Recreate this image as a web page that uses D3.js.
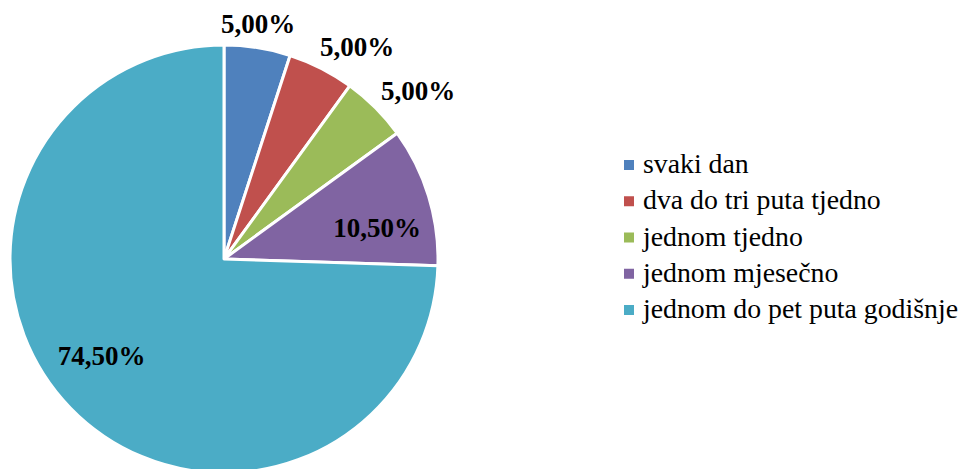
<!DOCTYPE html>
<html>
<head>
<meta charset="utf-8">
<script src="https://cdn.jsdelivr.net/npm/d3@7"></script>
<style>
  body { margin: 0; background: white; }
  svg { display: block; }
  text { font-family: "Liberation Serif", "Times New Roman", Times, serif; }
</style>
</head>
<body>
<div id="chart"></div>
<script>
// data
const categories = ["svaki dan", "dva do tri puta tjedno", "jednom tjedno", "jednom mjesečno", "jednom do pet puta godišnje"];
const values = [5.0, 5.0, 5.0, 10.5, 74.5];
const colors = ["#4F81BD", "#C0504D", "#9BBB59", "#8064A2", "#4BACC6"];
const outsideLabels = [true, true, true, false, false];

// page setup
const width = 963;
const height = 469;
const cx = 224, cy = 259, radius = 214;

const svg = d3.select("#chart")
    .append("svg")
    .attr("width", width)
    .attr("height", height);

const pie = d3.pie().sort(null).value(d => d.value);
const arcs = pie(categories.map((c, i) => ({name: c, value: values[i], color: colors[i], outside: outsideLabels[i]})));

const arc = d3.arc().innerRadius(0).outerRadius(radius);

const pieG = svg.append("g").attr("transform", `translate(${cx},${cy})`);

pieG.selectAll("path")
    .data(arcs)
    .enter()
    .append("path")
    .attr("d", arc)
    .attr("fill", d => d.data.color)
    .attr("stroke", "white")
    .attr("stroke-width", 3)
    .attr("stroke-linejoin", "round");

// data labels (outside end for small slices, inside for big ones)
const fmt = v => v.toFixed(2).replace(".", ",") + "%";
const labels = pieG.selectAll("text.lbl")
    .data(arcs)
    .enter()
    .append("text")
    .attr("class", "lbl")
    .style("font-size", "27px")
    .style("font-weight", "bold")
    .attr("fill", "black")
    .attr("text-anchor", "middle")
    .text(d => fmt(d.data.value));

labels.each(function(d) {
    const t = d3.select(this);
    const w = this.getComputedTextLength();
    const mid = (d.startAngle + d.endAngle) / 2;
    let x, y;
    if (d.data.outside) {
        const r = radius + 4;
        const px = Math.sin(mid) * r, py = -Math.cos(mid) * r;
        const f = Math.min(1, Math.max(0, (Math.sin(mid) - 0.156) / 0.35)) * 1.08;
        x = px + (w / 2) * f;
        y = py - 20 * Math.cos(mid);
    } else {
        const r = radius * 0.73;
        const a = mid + 0.1;
        x = Math.sin(a) * r;
        y = -Math.cos(a) * r;
    }
    t.attr("x", x).attr("y", y + 9);
});

// legend
const legend = svg.append("g").attr("transform", "translate(624,173)");
const rowH = 36.25;
const rows = legend.selectAll("g")
    .data(categories)
    .enter()
    .append("g")
    .attr("transform", (d, i) => `translate(0,${i * rowH})`);

rows.append("rect")
    .attr("x", 0)
    .attr("y", -13)
    .attr("width", 10)
    .attr("height", 10)
    .attr("fill", (d, i) => colors[i]);

rows.append("text")
    .attr("x", 19)
    .attr("y", 0)
    .style("font-size", "27.8px")
    .attr("fill", "black")
    .text(d => d);
</script>
</body>
</html>
